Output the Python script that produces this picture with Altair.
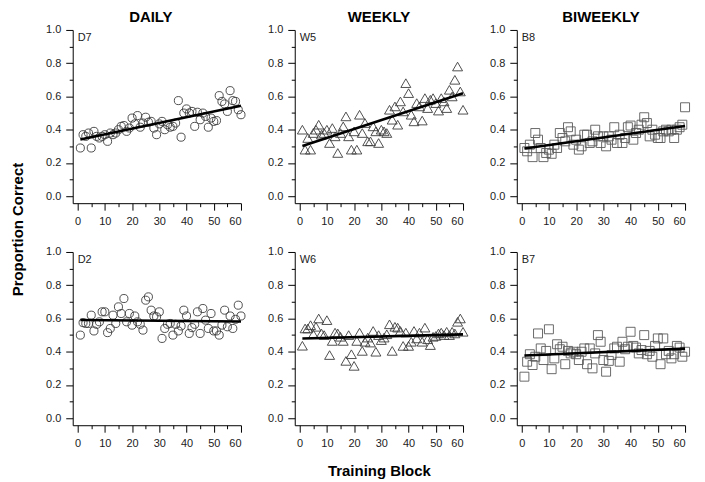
import altair as alt
import pandas as pd

# ---------------- data ----------------
blocks = list(range(1, 61))

d7 = [0.29, 0.37, 0.36, 0.38, 0.29, 0.39, 0.36, 0.35, 0.36, 0.37,
      0.33, 0.38, 0.37, 0.38, 0.40, 0.42, 0.425, 0.39, 0.41, 0.47,
      0.435, 0.485, 0.415, 0.44, 0.475, 0.445, 0.45, 0.41, 0.37, 0.435,
      0.45, 0.40, 0.43, 0.415, 0.42, 0.44, 0.575, 0.355, 0.50, 0.525,
      0.50, 0.51, 0.42, 0.505, 0.46, 0.50, 0.48, 0.415, 0.47, 0.45,
      0.455, 0.605, 0.57, 0.555, 0.51, 0.635, 0.575, 0.57, 0.52, 0.49]

w5 = [0.40, 0.28, 0.35, 0.28, 0.38, 0.40, 0.43, 0.37, 0.38, 0.40,
      0.32, 0.41, 0.36, 0.26, 0.38, 0.42, 0.48, 0.36, 0.28, 0.39,
      0.28, 0.49, 0.38, 0.44, 0.33, 0.33, 0.42, 0.39, 0.32, 0.40,
      0.39, 0.38, 0.52, 0.46, 0.54, 0.43, 0.57, 0.51, 0.68, 0.62,
      0.49, 0.45, 0.56, 0.54, 0.455, 0.59, 0.53, 0.58, 0.59, 0.56,
      0.515, 0.59, 0.57, 0.53, 0.64, 0.60, 0.70, 0.78, 0.63, 0.52]

b8 = [0.29, 0.27, 0.31, 0.235, 0.38, 0.34, 0.29, 0.235, 0.26, 0.28,
      0.255, 0.31, 0.29, 0.38, 0.35, 0.33, 0.415, 0.39, 0.31, 0.34,
      0.28, 0.30, 0.37, 0.37, 0.32, 0.33, 0.40, 0.36, 0.32, 0.36,
      0.30, 0.36, 0.34, 0.415, 0.32, 0.37, 0.32, 0.35, 0.415, 0.425,
      0.34, 0.38, 0.40, 0.43, 0.475, 0.44, 0.36, 0.40, 0.37, 0.35,
      0.35, 0.39, 0.40, 0.39, 0.40, 0.35, 0.40, 0.415, 0.43, 0.535]

d2 = [0.50, 0.575, 0.57, 0.57, 0.62, 0.525, 0.565, 0.58, 0.64, 0.64,
      0.515, 0.54, 0.62, 0.57, 0.67, 0.63, 0.72, 0.58, 0.63, 0.56,
      0.615, 0.58, 0.565, 0.53, 0.71, 0.73, 0.65, 0.615, 0.61, 0.64,
      0.48, 0.54, 0.565, 0.57, 0.50, 0.565, 0.525, 0.555, 0.65, 0.615,
      0.51, 0.545, 0.565, 0.64, 0.51, 0.66, 0.59, 0.54, 0.63, 0.525,
      0.525, 0.50, 0.56, 0.65, 0.55, 0.615, 0.54, 0.595, 0.68, 0.615]

w6 = [0.436, 0.54, 0.54, 0.56, 0.505, 0.55, 0.60, 0.51, 0.50, 0.59,
      0.38, 0.465, 0.515, 0.51, 0.49, 0.465, 0.345, 0.50, 0.385, 0.315,
      0.465, 0.515, 0.405, 0.46, 0.485, 0.455, 0.525, 0.40, 0.50, 0.47,
      0.485, 0.505, 0.565, 0.405, 0.55, 0.545, 0.525, 0.435, 0.515, 0.435,
      0.46, 0.525, 0.48, 0.515, 0.46, 0.545, 0.475, 0.44, 0.49, 0.495,
      0.51, 0.515, 0.50, 0.52, 0.50, 0.52, 0.51, 0.58, 0.60, 0.52]

b7 = [0.25, 0.34, 0.385, 0.32, 0.37, 0.51, 0.42, 0.35, 0.405, 0.535,
      0.295, 0.36, 0.445, 0.415, 0.43, 0.325, 0.405, 0.39, 0.40, 0.385,
      0.35, 0.40, 0.42, 0.325, 0.42, 0.30, 0.39, 0.50, 0.46, 0.35,
      0.28, 0.345, 0.38, 0.42, 0.43, 0.34, 0.46, 0.415, 0.43, 0.52,
      0.435, 0.425, 0.39, 0.41, 0.50, 0.385, 0.405, 0.37, 0.435, 0.48,
      0.325, 0.48, 0.385, 0.405, 0.36, 0.385, 0.435, 0.425, 0.37, 0.40]

panel_labels = ["D7", "W5", "B8", "D2", "W6", "B7"]
panel_series = [d7, w5, b8, d2, w6, b7]
column_titles = ["DAILY", "WEEKLY", "BIWEEKLY"]
x_major = [0, 10, 20, 30, 40, 50, 60]
x_minor = [5, 15, 25, 35, 45, 55]
y_major = [0.0, 0.2, 0.4, 0.6, 0.8, 1.0]
y_minor = [0.1, 0.3, 0.5, 0.7, 0.9]

# ---------------- styles ----------------
FONT = "Liberation Sans"
shapes = ["circle", "triangle-up", "square"]
sizes = [66, 100, 81]
colors = ["#3c3c3c", "#3c3c3c", "#5a5a5a"]
title_dx = [-6, 0, 0]
W, H = 169, 174


def make_panel(i):
    col = i % 3
    row = i // 3
    df = pd.DataFrame({"block": blocks, "prop": panel_series[i]})
    base = alt.Chart(df)
    xs = alt.Scale(domain=[-1.8, 60], nice=False, zero=False)
    ys = alt.Scale(domain=[-0.042, 1.0], nice=False, zero=False)

    minor_x = alt.Axis(values=x_minor, orient="bottom", tickSize=3.5, domain=False,
                       labels=False, grid=False, title=None)
    minor_y = alt.Axis(values=y_minor, orient="left", tickSize=3.5, domain=False,
                       labels=False, grid=False, title=None)

    xa = dict(values=x_major, orient="bottom", tickSize=7, domain=True, labels=True,
              grid=False, labelPadding=5, format="d", title=None)
    ya = dict(values=y_major, orient="left", tickSize=7, domain=True, labels=True,
              grid=False, labelPadding=5, format=".1f", title=None)
    if i == 0:
        ya.update(title="Proportion Correct", titleFontSize=15, titleFontWeight="bold",
                  titleAngle=270, titleAlign="center", titleBaseline="middle",
                  titleX=-55, titleY=200)
    if i == 4:
        xa.update(title="Training Block", titleFontSize=15, titleFontWeight="bold",
                  titleBaseline="middle", titleY=45)

    minor = base.mark_point(opacity=0).encode(
        x=alt.X("block:Q", scale=xs, axis=minor_x),
        y=alt.Y("prop:Q", scale=ys, axis=minor_y),
    )
    pts = base.mark_point(
        shape=shapes[col], size=sizes[col], filled=False, color=colors[col],
        strokeWidth=0.9, opacity=1,
    ).encode(
        x=alt.X("block:Q", scale=xs, axis=alt.Axis(**xa)),
        y=alt.Y("prop:Q", scale=ys, axis=alt.Axis(**ya)),
    )
    fit = base.transform_regression("block", "prop").mark_line(
        color="black", strokeWidth=2.6
    ).encode(
        x=alt.X("block:Q", scale=xs, axis=None),
        y=alt.Y("prop:Q", scale=ys, axis=None),
    )
    lab = alt.Chart(pd.DataFrame({"label": [panel_labels[i]]})).mark_text(
        font=FONT, fontSize=11, color="#222", align="left", baseline="middle"
    ).encode(text="label:N", x=alt.value(5), y=alt.value(8))

    layers = [minor, pts, fit, lab]
    if row == 0:
        ttl = alt.Chart(pd.DataFrame({"t": [column_titles[col]]})).mark_text(
            font=FONT, fontSize=15, fontWeight="bold", color="black",
            align="center", baseline="middle",
        ).encode(text="t:N", x=alt.value(W / 2 + title_dx[col]), y=alt.value(-13))
        layers.append(ttl)

    return alt.layer(*layers).resolve_axis(
        x="independent", y="independent"
    ).properties(width=W, height=H)


chart = alt.concat(
    *[make_panel(i) for i in range(6)],
    columns=3,
    spacing={"row": 49, "column": 54},
    bounds="flush",
).properties(
    padding={"left": 2, "top": 0, "right": 5, "bottom": 5}
).configure_axis(
    labelFont=FONT, titleFont=FONT, labelFontSize=11, labelColor="#222",
    tickColor="black", domainColor="black", titleColor="black",
    tickWidth=1, domainWidth=1,
).configure_view(stroke="transparent")

chart.save("out.html", embed_options={"renderer": "svg", "actions": False})
